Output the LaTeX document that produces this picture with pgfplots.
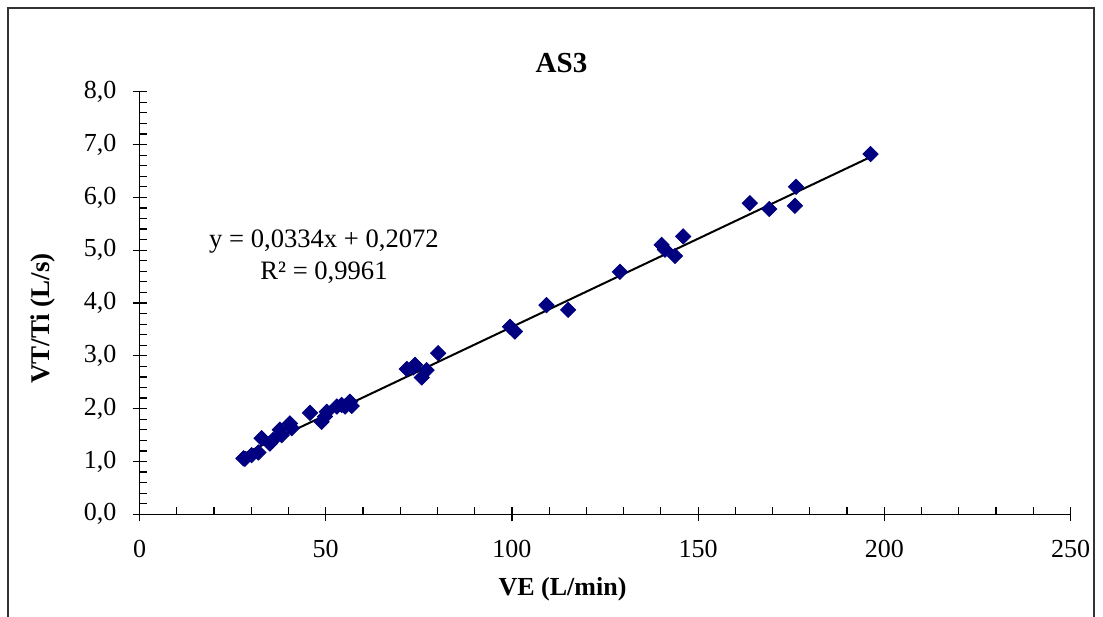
\documentclass[border=0pt]{standalone}
\usepackage{fontspec}
\setmainfont{Liberation Serif}
\usepackage{pgfplots}
\pgfplotsset{compat=1.18}
\definecolor{navy}{RGB}{0,0,128}
\pgfplotstableread{
x y
27.9 1.06
28.3 1.05
30.1 1.12
31.9 1.17
32.8 1.44
35.0 1.34
35.9 1.41
37.7 1.60
38.2 1.50
40.4 1.72
40.9 1.63
45.8 1.92
48.9 1.75
49.8 1.85
50.3 1.94
53.0 2.04
54.3 2.07
55.2 2.04
56.5 2.13
57.0 2.05
71.8 2.75
73.5 2.78
74.0 2.83
75.8 2.59
77.1 2.73
80.2 3.05
99.5 3.55
100.8 3.46
109.3 3.96
115.1 3.87
129.0 4.59
140.2 5.10
141.1 5.01
143.8 4.89
146.0 5.26
163.9 5.89
169.1 5.78
176.0 5.84
176.3 6.20
196.3 6.82
}\datatable
\begin{document}
\begin{tikzpicture}
\useasboundingbox (-69.75pt,257.15pt) rectangle (481.75pt,-50.85pt);
\draw[line width=1pt, black!80] (-65.5pt,252.9pt) rectangle (477.25pt,-57.85pt);
\begin{axis}[
  at={(0pt,0pt)}, anchor=south west,
  scale only axis, width=465.5pt, height=211.3pt,
  xmin=0, xmax=250, ymin=0, ymax=8,
  axis x line*=bottom, axis y line*=left,
  axis line style={-, line width=0.75pt, black},
  xtick={0,50,...,250}, ytick={0,1,...,8},
  minor x tick num=4, minor y tick num=4,
  tick align=center,
  major tick length=7pt, minor tick length=3.5pt,
  tick style={line width=0.6pt, black},
  minor x tick style={yshift=1.75pt},
  minor y tick style={xshift=1.75pt},
  /pgf/number format/assume math mode=true,
  xticklabel style={font=\fontsize{13}{15}\selectfont, yshift=-6pt},
  yticklabel style={font=\fontsize{13}{15}\selectfont, xshift=-4.5pt,
    /pgf/number format/.cd, fixed, fixed zerofill, precision=1, use comma},
  xticklabel={\pgfmathprintnumber[fixed,precision=0]{\tick}},
  clip=false,
]
\addplot[only marks, mark=square*, mark size=2.7pt, color=navy,
  mark options={rotate=45, fill=navy, draw=navy}] table[x=x,y=y] {\datatable};
\addplot[black, line width=1pt, no marks] coordinates {(27.9,1.139) (196.3,6.764)};
\end{axis}
\node[font=\bfseries\fontsize{14.5}{17}\selectfont] at (211pt,225.65pt) {AS3};
\node[font=\bfseries\fontsize{13}{15}\selectfont] at (211.5pt,-37.35pt) {VE (L/min)};
\node[font=\bfseries\fontsize{13.5}{15}\selectfont, rotate=90] at (-48.25pt,97.9pt) {VT/Ti (L/s)};
\node[font=\fontsize{13.3}{15}\selectfont, anchor=base, inner sep=0pt] at (92.25pt,133.15pt) {y = 0,0334x + 0,2072};
\node[font=\fontsize{13.3}{15}\selectfont, anchor=base, inner sep=0pt] at (92.25pt,117.15pt) {R² = 0,9961};
\end{tikzpicture}
\end{document}
